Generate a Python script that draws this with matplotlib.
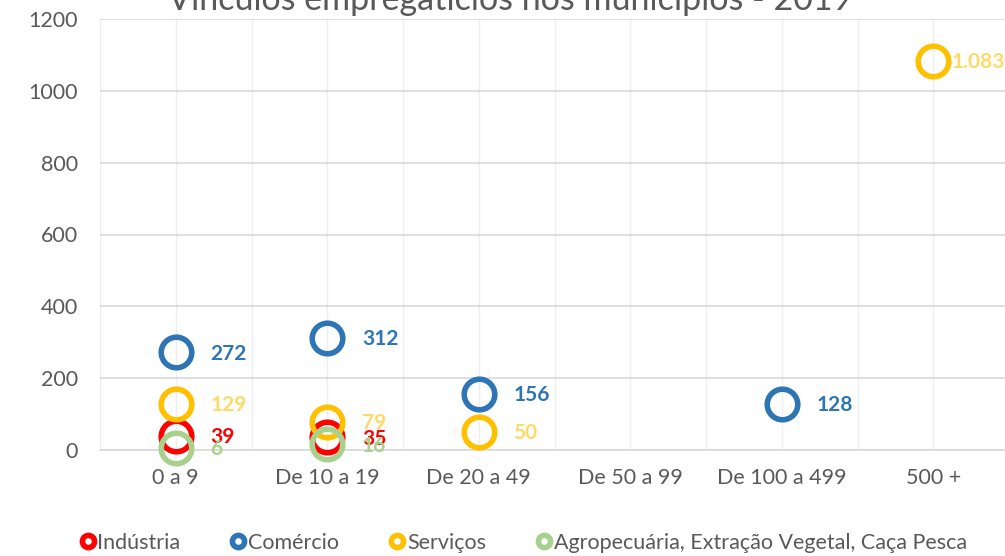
import matplotlib.pyplot as plt
import numpy as np

plt.rcParams['font.family'] = ['Lato', 'DejaVu Sans']

categorias = ['0 a 9', 'De 10 a 19', 'De 20 a 49', 'De 50 a 99', 'De 100 a 499', '500 +']
industria = [39, 35, None, None, None, None]
comercio = [272, 312, 156, None, 128, None]
servicos = [129, 79, 50, None, None, 1083]
agro = [6, 16, None, None, None, None]

series = [
    ('Indústria', industria, '#FF0000', '#FF0000'),
    ('Comércio', comercio, '#2E75B6', '#2E75B6'),
    ('Serviços', servicos, '#FFC000', '#FFD966'),
    ('Agropecuária, Extração Vegetal, Caça Pesca', agro, '#A9D18E', '#A9D18E'),
]

fig = plt.figure(figsize=(10.05, 5.56), dpi=100)
ax = fig.add_axes([100 / 1005, 1 - 450 / 556, 909 / 1005, 431 / 556])

x = np.arange(len(categorias))
for nome, vals, cor, cor_txt in series:
    xs = [i for i, v in zip(x, vals) if v is not None]
    ys = [v for v in vals if v is not None]
    ax.plot(xs, ys, linestyle='none', marker='o', markersize=22, markerfacecolor='none',
            markeredgecolor=cor, markeredgewidth=4, clip_on=False, zorder=3, label=nome)
    for xi, yi in zip(xs, ys):
        rotulo = f'{yi:,}'.replace(',', '.')
        dx = 13 if xi == len(categorias) - 1 else 25
        ax.annotate(rotulo, (xi, yi), xytext=(dx, -1), textcoords='offset points',
                    ha='left', va='center', color=cor_txt, fontsize=15, fontweight='bold',
                    zorder=4, annotation_clip=False)

ax.set_xlim(-0.5, len(categorias) - 0.5)
ax.set_ylim(0, 1200)
ax.set_yticks(range(0, 1201, 200))
ax.set_xticks(x)
ax.set_xticklabels(categorias)
ax.set_xticks(np.arange(-0.5, len(categorias), 1.0), minor=True)
ax.grid(axis='y', color='#D9D9D9', linewidth=1.2, zorder=0)
ax.grid(axis='x', which='both', color='#EEEEEE', linewidth=1, zorder=0)
for s in ['top', 'right', 'left']:
    ax.spines[s].set_visible(False)
ax.spines['bottom'].set_color('#D9D9D9')
ax.spines['bottom'].set_linewidth(1.2)
ax.tick_params(axis='both', which='both', length=0, colors='#595959', labelsize=15.5)
ax.tick_params(axis='x', pad=13)
ax.tick_params(axis='y', pad=16)

fig.text(510 / 1005, 1 - 10 / 556, 'Vínculos empregatícios nos municípios - 2019',
         ha='center', va='baseline', fontsize=24.5, color='#595959')

fig.legend(loc='center', bbox_to_anchor=(524 / 1005, 1 - 543 / 556), ncol=4, frameon=False,
           markerscale=0.4, handlelength=0.6, handletextpad=0.15, columnspacing=2.4,
           fontsize=15.5, labelcolor='#595959')

fig.savefig('out.png', dpi=100)
